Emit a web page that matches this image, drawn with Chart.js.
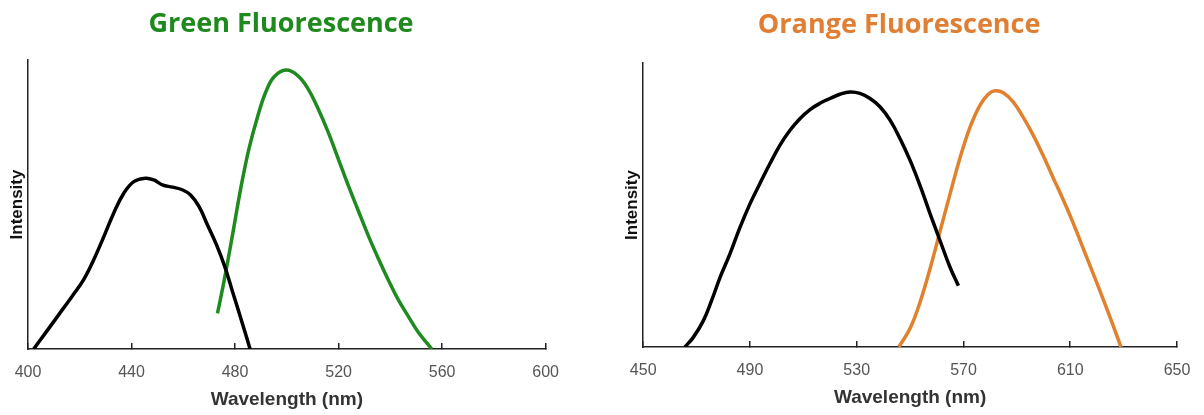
<!DOCTYPE html>
<html>
<head>
<meta charset="utf-8">
<script src="https://cdn.jsdelivr.net/npm/chart.js@4"></script>
<style>
  body { margin: 0; background: #fff; }
  .box { position: absolute; top: 0; height: 415px; }
</style>
</head>
<body>
<div class="box" style="left:0;width:559px"><canvas id="greenChart"></canvas></div>
<div class="box" style="left:600px;width:600px"><canvas id="orangeChart"></canvas></div>
<script>
// green panel - excitation (black) and emission (green)
const greenExWl = [402.2, 406.7, 411.9, 417.0, 421.5, 425.4, 429.3, 433.1, 437.0, 440.9, 445.4, 448.6, 451.9, 455.8, 459.6, 462.8, 466.1, 469.3, 472.8, 476.0, 479.0, 482.5, 485.8];
const greenExInt = [0, 5.5, 11.9, 18.2, 24.0, 30.9, 38.9, 47.0, 53.9, 57.9, 59.1, 58.5, 56.8, 56.0, 55.1, 53.3, 49.3, 43.0, 36.1, 28.6, 19.9, 9.8, 0];
const greenEmWl = [473.2, 475.7, 479.0, 482.2, 485.4, 488.7, 491.9, 495.1, 499.7, 504.2, 508.1, 512.0, 515.9, 519.8, 523.7, 527.5, 531.4, 535.3, 539.2, 543.1, 547.0, 550.8, 556.0];
const greenEmInt = [12.3, 23.3, 39.4, 55.6, 69.4, 80.4, 89.0, 94.2, 96.5, 94.6, 90.2, 83.3, 75.2, 66.0, 56.7, 48.1, 39.4, 31.4, 23.9, 17.0, 11.2, 5.8, 0];

// orange panel
const orangeExWl = [465.6, 468.7, 472.5, 475.6, 478.8, 482.5, 486.3, 490.0, 493.7, 497.5, 501.2, 505.0, 508.7, 512.5, 516.2, 520.0, 523.7, 527.5, 531.2, 535.0, 538.7, 542.5, 546.2, 550.0, 553.7, 557.5, 561.2, 565.0, 568.1];
const orangeExInt = [0, 3.3, 9.2, 16.3, 24.5, 32.8, 42.2, 50.4, 57.5, 64.6, 71.0, 76.3, 80.4, 83.6, 85.8, 87.5, 89.0, 89.8, 89.3, 87.5, 84.6, 79.9, 73.4, 65.7, 56.9, 46.9, 37.5, 28.0, 21.6];
const orangeEmWl = [545.8, 550.1, 553.9, 557.6, 561.3, 565.0, 568.8, 572.5, 576.2, 579.3, 581.8, 584.9, 588.6, 592.3, 596.1, 599.8, 603.5, 607.2, 611.0, 614.7, 618.4, 622.1, 625.9, 629.0];
const orangeEmInt = [0, 6.8, 16.3, 28.0, 41.0, 54.0, 66.9, 77.5, 85.2, 89.0, 90.2, 89.5, 86.3, 81.0, 74.6, 67.5, 59.8, 52.2, 43.9, 35.1, 26.3, 17.4, 8.0, 0];

function toPoints(xs, ys) {
    return xs.map((x, i) => ({x: x, y: ys[i]}));
}

function lineSet(xs, ys, color) {
    return {
        data: toPoints(xs, ys),
        borderColor: color,
        borderWidth: 3.5,
        pointRadius: 0,
        tension: 0.4,
        fill: false
    };
}

function makeChart(id, opts) {
    return new Chart(document.getElementById(id), {
        type: 'line',
        data: {datasets: opts.datasets},
        options: {
            responsive: true,
            maintainAspectRatio: false,
            animation: false,
            layout: {padding: opts.padding},
            plugins: {
                legend: {display: false},
                tooltip: {enabled: false},
                title: {
                    display: true,
                    text: opts.title,
                    color: opts.titleColor,
                    font: {family: 'Open Sans', size: 27, weight: 'bold', lineHeight: 1.2},
                    padding: opts.titlePad
                }
            },
            scales: {
                x: {
                    type: 'linear',
                    min: opts.xMin,
                    max: opts.xMax,
                    // tall line height pushes the labels down without widening the side padding
                    ticks: {stepSize: 40, color: '#555', padding: 0, maxRotation: 0,
                        font: {family: 'Liberation Sans', size: 16, lineHeight: 3.75}},
                    grid: {drawOnChartArea: false, tickLength: -6, color: '#222', lineWidth: 1.5},
                    border: {color: '#222', width: 1.5},
                    title: {display: true, text: 'Wavelength (nm)', color: '#333',
                        font: {family: 'Liberation Sans', size: 19, weight: 'bold'},
                        padding: {top: -14.4, bottom: 3.6}}
                },
                y: {
                    min: 0,
                    max: 100,
                    ticks: {display: false},
                    grid: {display: false, drawTicks: false},
                    border: {color: '#222', width: 1.5},
                    title: {display: true, text: 'Intensity', color: '#111',
                        font: {family: 'Liberation Sans', size: 17, weight: 'bold'},
                        padding: {top: 1, bottom: 0.5}}
                }
            }
        }
    });
}

makeChart('greenChart', {
    title: 'Green Fluorescence',
    titleColor: '#1e8a1e',
    titlePad: {top: 7.8, bottom: 19.8},
    padding: {left: 6.1, right: 3, top: 0, bottom: 0},
    xMin: 400, xMax: 600,
    datasets: [
        lineSet(greenExWl, greenExInt, '#000'),
        lineSet(greenEmWl, greenEmInt, '#1f8a1f')
    ]
});

makeChart('orangeChart', {
    title: 'Orange Fluorescence',
    titleColor: '#e07f34',
    titlePad: {top: 8.8, bottom: 21.8},
    padding: {left: 21.3, right: 23, top: 0, bottom: 2},
    xMin: 450, xMax: 650,
    datasets: [
        lineSet(orangeExWl, orangeExInt, '#000'),
        lineSet(orangeEmWl, orangeEmInt, '#e0812e')
    ]
});
</script>
</body>
</html>
